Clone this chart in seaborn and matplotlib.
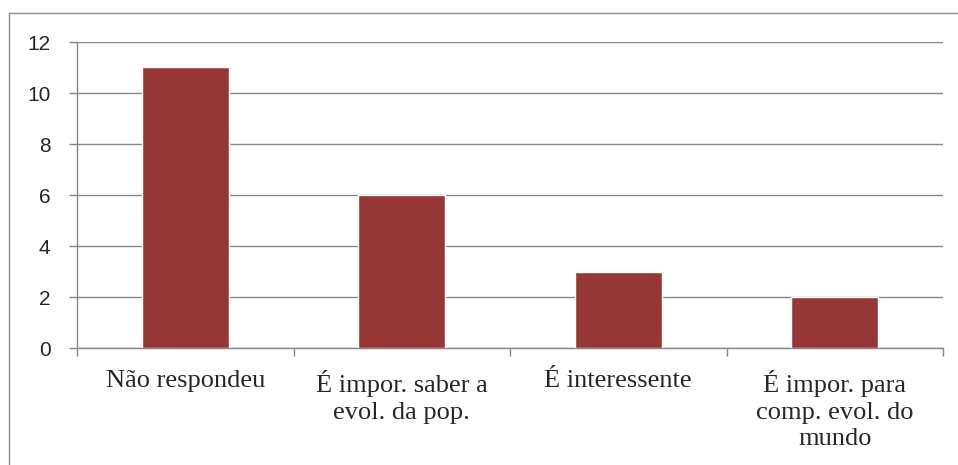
import matplotlib
matplotlib.use("Agg")
import matplotlib.pyplot as plt
from matplotlib.lines import Line2D
import seaborn as sns
import pandas as pd

# dados do gráfico
categorias = ["Não respondeu", "É impor. saber a\nevol. da pop.", "É interessente",
              "É impor. para\ncomp. evol. do\nmundo"]
valores = [11, 6, 3, 2]
yticks = [0, 2, 4, 6, 8, 10, 12]

df = pd.DataFrame({"cat": categorias, "val": valores})

sns.set_style("white")
grid_cor = "#868686"

fig = plt.figure(figsize=(9.58, 4.65), dpi=100)
ax = fig.add_axes([77 / 958, 117 / 465, 866 / 958, 306 / 465])

sns.barplot(data=df, x="cat", y="val", color="#953735", width=0.4,
            saturation=1, ax=ax, zorder=3)

ax.set_ylim(0, 12)
ax.set_xlim(-0.5, len(categorias) - 0.5)
ax.set_yticks(yticks)
ax.set_yticklabels([str(v) for v in yticks], fontfamily="Liberation Sans", fontsize=15)
ax.yaxis.grid(True, color=grid_cor, linewidth=1.0, zorder=0)
ax.set_axisbelow(True)

# marcas do eixo x nos limites das categorias
ax.set_xticks([i + 0.5 for i in range(-1, len(categorias))], minor=False)
ax.set_xticklabels([])
ax.set_xticks(range(len(categorias)), minor=True)
ax.set_xticklabels(categorias, minor=True, fontfamily="Liberation Serif", fontsize=19,
                   linespacing=1.27)
ax.tick_params(axis="x", which="major", direction="out", length=6, width=1.0,
               color=grid_cor, bottom=True)
ax.tick_params(axis="x", which="minor", length=0, pad=16)
ax.tick_params(axis="y", direction="out", length=6, width=1.0, color=grid_cor,
               left=True, pad=13)

ax.set_xlabel("")
ax.set_ylabel("")
for s in ["top", "right"]:
    ax.spines[s].set_visible(False)
for s in ["left", "bottom"]:
    ax.spines[s].set_color(grid_cor)
    ax.spines[s].set_linewidth(1.0)

# moldura do gráfico
fig.add_artist(Line2D([8.5 / 958, 8.5 / 958], [0, 1 - 13 / 465], color="#8c8c8c",
                      linewidth=1, transform=fig.transFigure))
fig.add_artist(Line2D([8.5 / 958, 1], [1 - 13 / 465, 1 - 13 / 465], color="#8c8c8c",
                      linewidth=1, transform=fig.transFigure))

fig.savefig("out.png", dpi=100)
